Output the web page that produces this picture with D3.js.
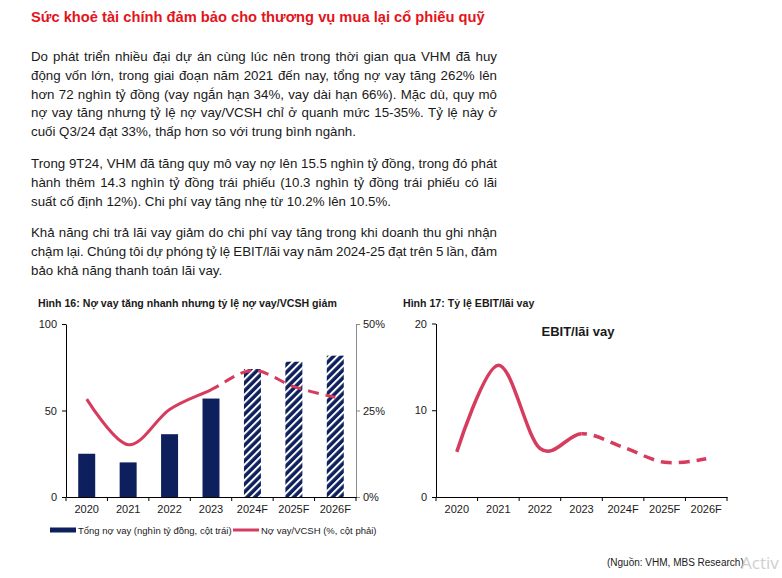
<!DOCTYPE html>
<html><head><meta charset="utf-8">
<script src="https://cdn.jsdelivr.net/npm/d3@7"></script>
<style>body{margin:0;background:#fff}svg{display:block;font-family:Arial,"Liberation Sans",sans-serif}</style>
</head><body>
<svg id="c" width="782" height="578"></svg>
<script>
// ---------- data ----------
const years = ["2020","2021","2022","2023","2024F","2025F","2026F"];
const totalDebt = [25, 20, 36.3, 56.9, 74, 78.2, 81.7];          // nghìn tỷ đồng
const debtToEquity = [0.283, 0.151, 0.253, 0.31, 0.366, 0.319, 0.288];
const ebitInterest = [5.2, 15.2, 5.6, 7.3, 5.75, 4.0, 4.4];
const lastActual = "2023";
const leftTicks = [0, 50, 100];
const rightTicks = [0, 0.25, 0.5];
const ebitTicks = [0, 10, 20];

const heading = "Sức khoẻ tài chính đảm bảo cho thương vụ mua lại cổ phiếu quỹ";
const paragraphs = [
 ["Do phát triển nhiều đại dự án cùng lúc nên trong thời gian qua VHM đã huy",
  "động vốn lớn, trong giai đoạn năm 2021 đến nay, tổng nợ vay tăng 262% lên",
  "hơn 72 nghìn tỷ đồng (vay ngắn hạn 34%, vay dài hạn 66%). Mặc dù, quy mô",
  "nợ vay tăng nhưng tỷ lệ nợ vay/VCSH chỉ ở quanh mức 15-35%. Tỷ lệ này ở",
  "cuối Q3/24 đạt 33%, thấp hơn so với trung bình ngành."],
 ["Trong 9T24, VHM đã tăng quy mô vay nợ lên 15.5 nghìn tỷ đồng, trong đó phát",
  "hành thêm 14.3 nghìn tỷ đồng trái phiếu (10.3 nghìn tỷ đồng trái phiếu có lãi",
  "suất cố định 12%). Chi phí vay tăng nhẹ từ 10.2% lên 10.5%."],
 ["Khả năng chi trả lãi vay giảm do chi phí vay tăng trong khi doanh thu ghi nhận",
  "chậm lại. Chúng tôi dự phóng tỷ lệ EBIT/lãi vay năm 2024-25 đạt trên 5 lần, đảm",
  "bảo khả năng thanh toán lãi vay."]
];
const fig16Title = "Hình 16: Nợ vay tăng nhanh nhưng tỷ lệ nợ vay/VCSH giảm";
const fig17Title = "Hình 17: Tỷ lệ EBIT/lãi vay";
const fig17Inner = "EBIT/lãi vay";
const legendBar = "Tổng nợ vay (nghìn tỷ đồng, cột trái)";
const legendLine = "Nợ vay/VCSH (%, cột phải)";
const sourceText = "(Nguồn: VHM, MBS Research)";

// ---------- style ----------
const NAVY = "#0d1f5c", RED = "#d63c5e", TXT = "#1a1a1a";
const svg = d3.select("#c");
const defs = svg.append("defs");
const pat = defs.append("pattern").attr("id","hatch").attr("patternUnits","userSpaceOnUse")
  .attr("width",5.5).attr("height",5.5).attr("patternTransform","rotate(45)");
pat.append("rect").attr("width",5.5).attr("height",5.5).attr("fill",NAVY);
pat.append("rect").attr("x",0).attr("width",2).attr("height",5.5).attr("fill","#fff");

// ---------- text ----------
svg.append("text").attr("x",31).attr("y",22).attr("font-size",14.7).attr("font-weight","bold")
  .attr("fill","#e3141b").text(heading);

const paraY = [61, 168, 237], LH = 18.8, TX = 31, TW = 466;
paragraphs.forEach((lines, p) => {
  lines.forEach((t, i) => {
    const el = svg.append("text").attr("x",TX).attr("y",paraY[p] + i*LH)
      .attr("font-size",13.3).attr("fill",TXT).text(t);
    if (i < lines.length - 1) {
      const w = el.node().getComputedTextLength();
      const n = (t.match(/ /g) || []).length;
      el.style("word-spacing", ((TW - w) / n) + "px");
    }
  });
});

svg.append("text").attr("x",38).attr("y",307).attr("font-size",10.6).attr("font-weight","bold").attr("fill",TXT).text(fig16Title);
svg.append("text").attr("x",403).attr("y",307).attr("font-size",10.6).attr("font-weight","bold").attr("fill",TXT).text(fig17Title);
svg.append("text").attr("x",607).attr("y",566).attr("font-size",10).attr("fill",TXT).text(sourceText);
svg.append("text").attr("x",741).attr("y",569).attr("font-size",17).attr("fill","#cfcfcf").attr("font-family","'Open Sans',sans-serif").text("Activ");

function styleAxis(g, color, fs) {
  g.selectAll(".domain").attr("stroke", color);
  g.selectAll(".tick line").attr("stroke", color);
  g.selectAll(".tick text").attr("fill", TXT).attr("font-size", fs).attr("font-family","Arial,'Liberation Sans',sans-serif");
}

function splitLine(g, xs, ys, data, width, id) {
  const line = d3.line().x((d,i)=>xs(years[i]) + xs.bandwidth()/2).y(d=>ys(d)).curve(d3.curveCatmullRom.alpha(0));
  const cx = xs(lastActual) + xs.bandwidth()/2;
  defs.append("clipPath").attr("id",id+"a").append("rect").attr("x",0).attr("y",0).attr("width",cx).attr("height",578);
  defs.append("clipPath").attr("id",id+"b").append("rect").attr("x",cx).attr("y",0).attr("width",782-cx).attr("height",578);
  g.append("path").attr("d",line(data)).attr("fill","none").attr("stroke",RED).attr("stroke-width",width)
    .attr("clip-path",`url(#${id}a)`);
  g.append("path").attr("d",line(data)).attr("fill","none").attr("stroke",RED).attr("stroke-width",width)
    .attr("stroke-dasharray","11,7").attr("clip-path",`url(#${id}b)`);
}

function categoryTicks(g, xs, y0) {
  const gap = xs.step() - xs.bandwidth();
  const bounds = years.map(d => xs(d) - gap/2).concat([xs(years[years.length-1]) + xs.bandwidth() + gap/2]);
  g.selectAll(null).data(bounds).enter().append("line")
    .attr("x1",d=>d).attr("x2",d=>d).attr("y1",y0).attr("y2",y0+4).attr("stroke","#000");
}

// ---------- Figure 16 ----------
{
  const g = svg.append("g");
  const x = d3.scaleBand().domain(years).range([66,356]).paddingInner(0.59).paddingOuter(0.295);
  const y = d3.scaleLinear().domain([0,100]).range([497,324]);
  const y2 = d3.scaleLinear().domain([0,0.5]).range([497,324]);

  g.selectAll("rect.bar").data(totalDebt).enter().append("rect").attr("class","bar")
    .attr("x",(d,i)=>x(years[i])).attr("width",x.bandwidth())
    .attr("y",d=>y(d)).attr("height",d=>y(0)-y(d))
    .attr("fill",(d,i)=> years.indexOf(lastActual) < i ? "url(#hatch)" : NAVY);

  splitLine(g, x, y2, debtToEquity, 3, "l16");

  const ax = g.append("g").attr("transform","translate(66,0)")
    .call(d3.axisLeft(y).tickValues(leftTicks).tickSize(4).tickSizeOuter(0).tickPadding(5));
  styleAxis(ax, "#000", 11);
  const ar = g.append("g").attr("transform","translate(356,0)")
    .call(d3.axisRight(y2).tickValues(rightTicks).tickFormat(d3.format(".0%")).tickSize(4).tickSizeOuter(0).tickPadding(3));
  styleAxis(ar, "#8a8a8a", 11);
  const axb = g.append("g").attr("transform","translate(0,497)")
    .call(d3.axisBottom(x).tickSize(0).tickSizeOuter(0).tickPadding(8));
  styleAxis(axb, "#000", 11);
  categoryTicks(g, x, 497);

  // legend
  g.append("rect").attr("x",50).attr("y",527.5).attr("width",26).attr("height",5).attr("fill",NAVY);
  g.append("text").attr("x",78).attr("y",533.5).attr("font-size",9.5).attr("fill",TXT).text(legendBar);
  g.append("line").attr("x1",233).attr("x2",259).attr("y1",530).attr("y2",530).attr("stroke",RED).attr("stroke-width",3);
  g.append("text").attr("x",261).attr("y",533.5).attr("font-size",9.5).attr("fill",TXT).text(legendLine);
}

// ---------- Figure 17 ----------
{
  const g = svg.append("g");
  const x = d3.scaleBand().domain(years).range([436,727]);
  const y = d3.scaleLinear().domain([0,20]).range([497,323.5]);

  splitLine(g, x, y, ebitInterest, 3.5, "l17");

  const ax = g.append("g").attr("transform","translate(436,0)")
    .call(d3.axisLeft(y).tickValues(ebitTicks).tickSize(4).tickSizeOuter(0).tickPadding(5));
  styleAxis(ax, "#000", 11);
  const axb = g.append("g").attr("transform","translate(0,497)")
    .call(d3.axisBottom(x).tickSize(0).tickSizeOuter(0).tickPadding(8));
  styleAxis(axb, "#000", 11);
  categoryTicks(g, x, 497);

  g.append("text").attr("x",578).attr("y",336).attr("text-anchor","middle").attr("font-size",13)
    .attr("font-weight","bold").attr("fill",TXT).text(fig17Inner);
}
</script>
</body></html>
